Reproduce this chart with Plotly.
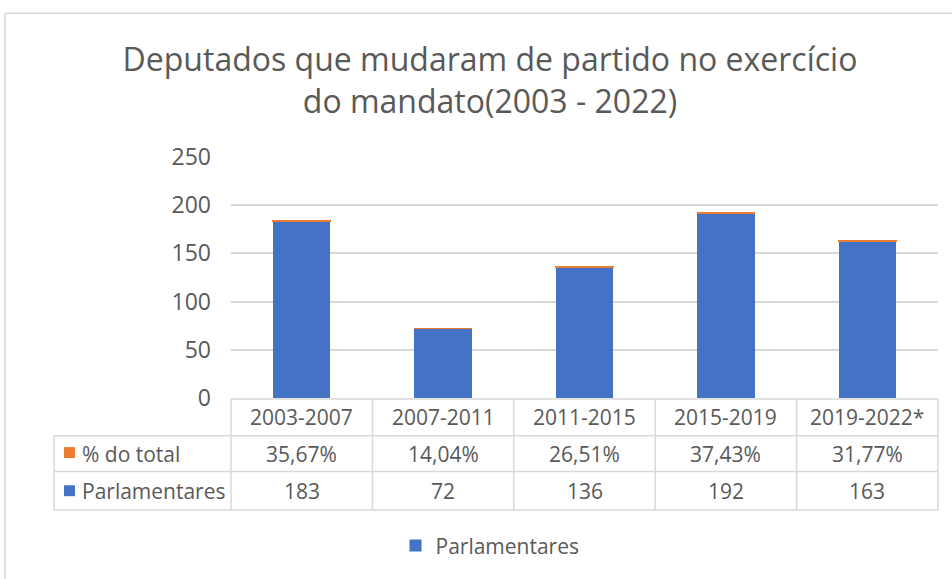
import plotly.graph_objects as go

categories = ["2003-2007", "2007-2011", "2011-2015", "2015-2019", "2019-2022*"]
parlamentares = [183, 72, 136, 192, 163]
pct_total = [0.3567, 0.1404, 0.2651, 0.3743, 0.3177]
pct_labels = ["35,67%", "14,04%", "26,51%", "37,43%", "31,77%"]
y_ticks = [0, 50, 100, 150, 200, 250]

W, H = 952, 579
L, R, T, B = 231, 938, 157, 400
FONT = "Open Sans"
GRAY = "#595959"
LINE = "#d9d9d9"
BLUE = "#4472C4"
ORANGE = "#ED7D31"
TFS = 21


def px(x):
    return (x - L) / (R - L)


def py(y):
    return (B - y) / (B - T)


fig = go.Figure()
fig.add_trace(go.Bar(x=categories, y=parlamentares, name="Parlamentares",
                     marker=dict(color=BLUE, line=dict(width=0)), width=0.405))
fig.add_trace(go.Bar(x=categories, y=pct_total, name="% do total", showlegend=False,
                     marker=dict(color=ORANGE, line=dict(color=ORANGE, width=1.5)), width=0.405))

shapes = []
# chart border
shapes.append(dict(type="line", xref="paper", yref="paper", x0=px(5), x1=px(5), y0=py(12), y1=py(590),
                   line=dict(color=LINE, width=1.5)))
shapes.append(dict(type="line", xref="paper", yref="paper", x0=px(5), x1=px(960), y0=py(12), y1=py(12),
                   line=dict(color=LINE, width=1.5)))
# table horizontal lines
for yy, x0 in [(401, 231), (438, 54), (474, 54), (513, 54)]:
    shapes.append(dict(type="line", xref="paper", yref="paper", x0=px(x0), x1=px(938), y0=py(yy), y1=py(yy),
                       line=dict(color=LINE, width=1.5)))
# table vertical lines
n = len(categories)
for i in range(n + 1):
    xx = L + (R - L) * i / n
    shapes.append(dict(type="line", xref="paper", yref="paper", x0=px(xx), x1=px(xx), y0=py(401), y1=py(513),
                       line=dict(color=LINE, width=1.5)))
shapes.append(dict(type="line", xref="paper", yref="paper", x0=px(54), x1=px(54), y0=py(438), y1=py(513),
                   line=dict(color=LINE, width=1.5)))
# legend keys in table
for yc, col in [(455, ORANGE), (493.5, BLUE)]:
    shapes.append(dict(type="rect", xref="paper", yref="paper", x0=px(64), x1=px(75), y0=py(yc - 5.5), y1=py(yc + 5.5),
                       fillcolor=col, line=dict(width=0)))

annotations = []
tf = dict(family=FONT, size=TFS, color=GRAY)
for i, c in enumerate(categories):
    annotations.append(dict(x=c, y=py(419), xref="x", yref="paper", text=c, showarrow=False,
                            xanchor="center", yanchor="middle", font=tf))
    annotations.append(dict(x=c, y=py(456), xref="x", yref="paper", text=pct_labels[i], showarrow=False,
                            xanchor="center", yanchor="middle", font=tf))
    annotations.append(dict(x=c, y=py(494), xref="x", yref="paper", text=str(parlamentares[i]), showarrow=False,
                            xanchor="center", yanchor="middle", font=tf))
annotations.append(dict(x=px(80), y=py(456), xref="paper", yref="paper", text="% do total", showarrow=False,
                        xanchor="left", yanchor="middle", font=tf))
annotations.append(dict(x=px(80), y=py(494), xref="paper", yref="paper", text="Parlamentares", showarrow=False,
                        xanchor="left", yanchor="middle", font=tf))

fig.update_layout(
    width=W, height=H,
    margin=dict(l=L, r=W - R, t=T, b=H - B),
    paper_bgcolor="white", plot_bgcolor="white",
    barmode="stack",
    title=dict(text="Deputados que mudaram de partido no exercício<br>do mandato(2003 - 2022)",
               xref="container", x=490 / W, xanchor="center", yref="container", y=1 - 71 / H, yanchor="middle",
               font=dict(family=FONT, size=32, color=GRAY)),
    xaxis=dict(showticklabels=False, showline=False, showgrid=False, zeroline=False,
               range=[-0.5, n - 0.5]),
    yaxis=dict(range=[0, 250], tickvals=y_ticks, showgrid=True, gridcolor=LINE, gridwidth=1.5,
               zeroline=False, showline=False, ticklabelstandoff=19,
               tickfont=dict(family=FONT, size=23, color=GRAY)),
    showlegend=True,
    legend=dict(orientation="h", x=px(490), xanchor="center", y=py(549), yanchor="middle",
                font=dict(family=FONT, size=TFS, color=GRAY), itemwidth=30),
    shapes=shapes,
    annotations=annotations,
)

fig.write_html("out.html", config={"displayModeBar": False},
               post_script="document.body.style.margin='0';document.body.style.overflow='hidden';")
